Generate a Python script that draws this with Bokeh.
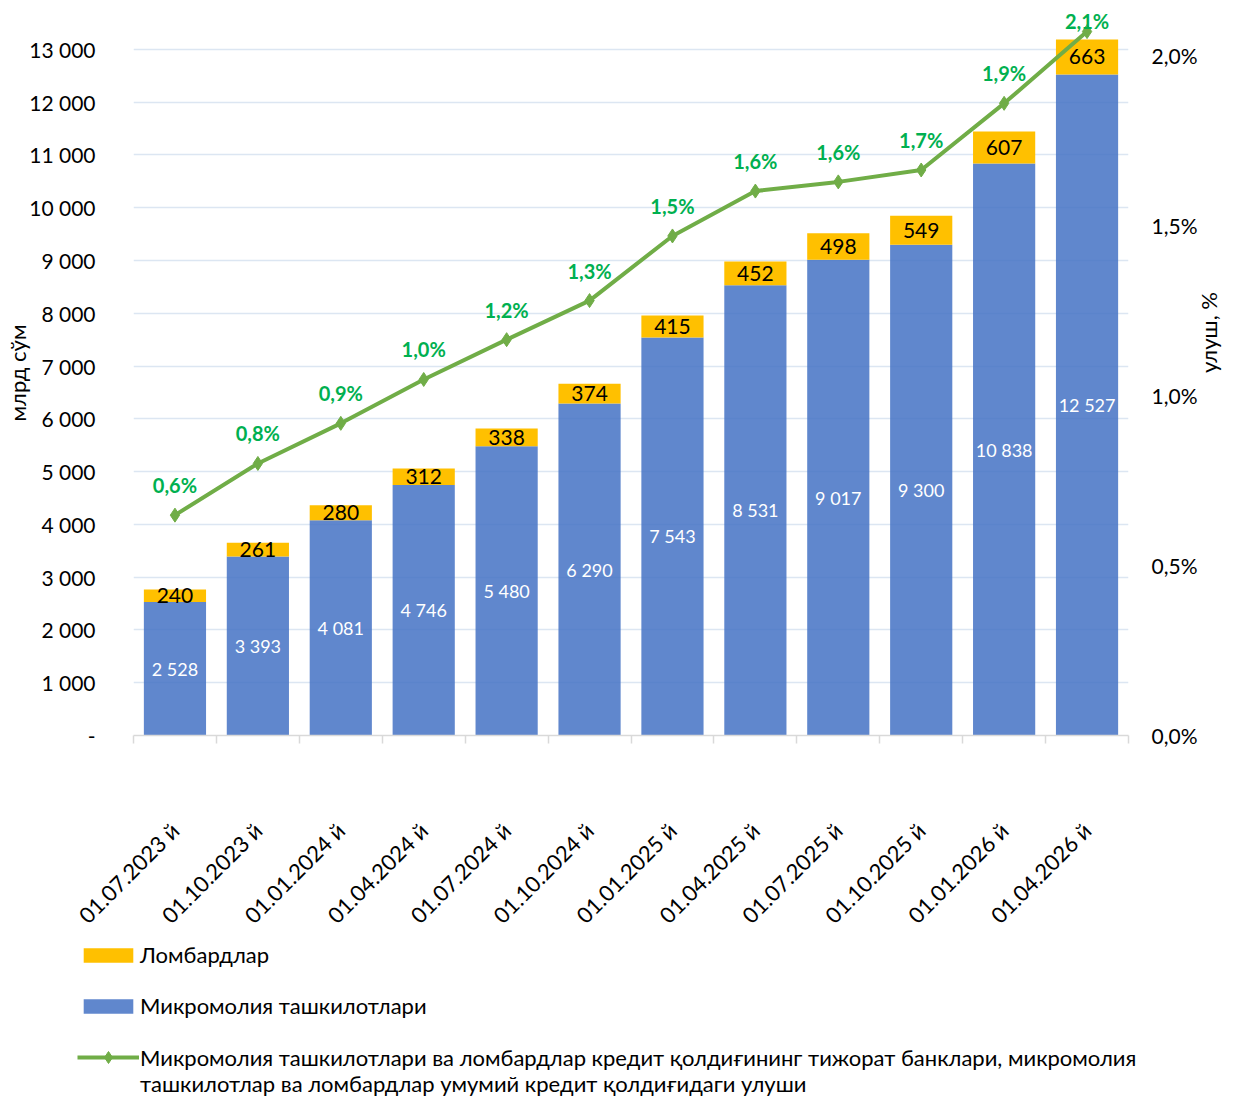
import math
from bokeh.plotting import figure
from bokeh.layouts import column
from bokeh.models import (Range1d, LinearAxis, FixedTicker, ColumnDataSource,
                          Legend, LegendItem)
from bokeh.core.properties import value
from bokeh.embed import file_html
from bokeh.resources import INLINE

# ---------------- data ----------------
categories = ["01.07.2023 й", "01.10.2023 й", "01.01.2024 й", "01.04.2024 й",
              "01.07.2024 й", "01.10.2024 й", "01.01.2025 й", "01.04.2025 й",
              "01.07.2025 й", "01.10.2025 й", "01.01.2026 й", "01.04.2026 й"]
micro = [2528, 3393, 4081, 4746, 5480, 6290, 7543, 8531, 9017, 9300, 10838, 12527]
lombard = [240, 261, 280, 312, 338, 374, 415, 452, 498, 549, 607, 663]
share = [0.648, 0.80, 0.918, 1.047, 1.164, 1.279, 1.469, 1.601, 1.628, 1.663, 1.859, 2.070]
share_labels = ["0,6%", "0,8%", "0,9%", "1,0%", "1,2%", "1,3%", "1,5%", "1,6%",
                "1,6%", "1,7%", "1,9%", "2,1%"]
left_ticks = list(range(0, 14000, 1000))
right_ticks = [0, 0.5, 1, 1.5, 2]
right_tick_labels = ["0,0%", "0,5%", "1,0%", "1,5%", "2,0%"]
series_names = ["Ломбардлар", "Микромолия ташкилотлари",
                "Микромолия ташкилотлари ва ломбардлар кредит қолдиғининг тижорат банклари, микромолия",
                "ташкилотлар ва ломбардлар умумий кредит қолдиғидаги улуши"]
y_title = "млрд сўм"
y2_title = "улуш, %"

FONT = "Lato"
BLUE = "#4472C4"
ORANGE = "#FFC000"
GREEN = "#70AD47"
LBL_GREEN = "#00B050"
W = 1238
H_MAIN = 941


def fmt(v):
    return "-" if v == 0 else f"{v:,}".replace(",", " ")


n = len(categories)
xs = [i + 0.5 for i in range(n)]
src = ColumnDataSource(dict(
    x=xs,
    micro=micro,
    top=[m + l for m, l in zip(micro, lombard)],
    micro_mid=[m / 2 for m in micro],
    lomb_mid=[m + l / 2 for m, l in zip(micro, lombard)],
    micro_lbl=[fmt(m) for m in micro],
    lomb_lbl=[str(l) for l in lombard],
    share=share,
    share_lbl=share_labels,
    share_off=[-30] * (n - 1) + [-11],
))

p = figure(width=W, height=H_MAIN,
           x_range=Range1d(0, n), y_range=Range1d(0, 13738),
           output_backend="svg", toolbar_location=None,
           min_border_left=133, min_border_right=109,
           min_border_top=10, min_border_bottom=H_MAIN - 737)
p.extra_y_ranges = {"pct": Range1d(0, 2.132)}
p.outline_line_color = None
p.background_fill_color = "white"
p.border_fill_color = "white"

# grids
p.xgrid.visible = False
p.ygrid.grid_line_color = "#DCE6F2"
p.ygrid.grid_line_width = 1.5

# left axis
ya = p.yaxis[0]
ya.ticker = FixedTicker(ticks=left_ticks)
ya.major_label_overrides = {t: fmt(t) for t in left_ticks}
ya.axis_line_color = None
ya.major_tick_line_color = None
ya.minor_tick_line_color = None
ya.major_tick_out = 0
ya.major_tick_in = 0
ya.minor_tick_out = 0
ya.minor_tick_in = 0
ya.major_label_standoff = 38
ya.major_label_text_font = FONT
ya.major_label_text_font_size = "21px"
ya.major_label_text_color = "black"
ya.axis_label = y_title
ya.axis_label_standoff = -5
ya.axis_label_text_font = FONT
ya.axis_label_text_font_size = "22px"
ya.axis_label_text_font_style = "normal"
ya.axis_label_text_color = "black"

# x axis
xa = p.xaxis[0]
xa.ticker = FixedTicker(ticks=xs, minor_ticks=list(range(n + 1)))
xa.major_label_overrides = {x: c for x, c in zip(xs, categories)}
xa.major_label_orientation = math.pi / 4
xa.major_tick_line_color = None
xa.major_tick_out = 0
xa.major_tick_in = 0
xa.minor_tick_out = 8
xa.minor_tick_in = 0
xa.minor_tick_line_color = "#D9D9D9"
xa.minor_tick_line_width = 1.5
xa.axis_line_color = "#D9D9D9"
xa.axis_line_width = 1.5
xa.major_label_standoff = 83
xa.major_label_text_font = FONT
xa.major_label_text_font_size = "22px"
xa.major_label_text_color = "black"

# right axis
ra = LinearAxis(y_range_name="pct", ticker=FixedTicker(ticks=right_ticks),
                major_label_overrides={t: s for t, s in zip(right_ticks, right_tick_labels)})
ra.axis_line_color = None
ra.major_tick_line_color = None
ra.minor_tick_line_color = None
ra.major_tick_out = 0
ra.major_tick_in = 0
ra.minor_tick_out = 0
ra.minor_tick_in = 0
ra.major_label_standoff = 23
ra.major_label_text_font = FONT
ra.major_label_text_font_size = "21px"
ra.major_label_text_color = "black"
ra.axis_label = y2_title
ra.axis_label_standoff = 8
ra.axis_label_text_font = FONT
ra.axis_label_text_font_size = "22px"
ra.axis_label_text_font_style = "normal"
ra.axis_label_text_color = "black"
if "axis_label_orientation" in ra.properties():
    ra.axis_label_orientation = math.pi / 2
p.add_layout(ra, "right")

# bars
p.vbar(x="x", bottom=0, top="micro", width=0.75, source=src,
       fill_color=BLUE, fill_alpha=0.85, line_color=None)
p.vbar(x="x", bottom="micro", top="top", width=0.75, source=src,
       fill_color=ORANGE, line_color=None)

# line
p.line(x="x", y="share", y_range_name="pct", source=src,
       line_color=GREEN, line_width=4)
p.scatter(x="x", y="share", y_range_name="pct", source=src,
          marker="diamond", size=14, fill_color=GREEN, line_color=GREEN)

# labels
p.text(x="x", y="micro_mid", text="micro_lbl", source=src,
       text_color="white", text_font=value(FONT), text_font_size="18px",
       text_align="center", text_baseline="middle")
p.text(x="x", y="lomb_mid", text="lomb_lbl", source=src,
       text_color="black", text_font=value(FONT), text_font_size="21px",
       text_align="center", text_baseline="middle")
p.text(x="x", y="share", y_range_name="pct", text="share_lbl", source=src,
       y_offset="share_off",
       text_color=LBL_GREEN, text_font=value(FONT), text_font_size="20px",
       text_font_style="bold", text_align="center", text_baseline="middle")

# ---------------- legend (separate strip under the chart) ----------------
# the strip's renderers are hidden; only their legend entries are drawn
H_LEG = 1097 - H_MAIN
pl = figure(width=W, height=H_LEG, x_range=Range1d(0, n),
            y_range=Range1d(0, 13738),
            output_backend="svg", toolbar_location=None,
            x_axis_location=None, y_axis_location=None,
            min_border_left=77, min_border_right=0,
            min_border_top=0, min_border_bottom=0)
pl.outline_line_color = None
pl.xgrid.visible = False
pl.ygrid.visible = False
pl.background_fill_color = "white"
pl.border_fill_color = "white"
for fig in (p, pl):
    if "frame_align" in fig.properties():
        fig.frame_align = False
l_lomb = pl.vbar(x="x", bottom="micro", top="top", width=0.75, source=src,
                 fill_color=ORANGE, line_color=None)
l_micro = pl.vbar(x="x", bottom=0, top="micro", width=0.75, source=src,
                  fill_color=BLUE, fill_alpha=0.85, line_color=None)
l_line = pl.line(x="x", y="share", source=src, line_color=GREEN, line_width=4)
l_pts = pl.scatter(x="x", y="share", source=src, marker="diamond", size=14,
                   fill_color=GREEN, line_color=GREEN)
l_blank = pl.line(x="x", y="share", source=src, line_alpha=0)
for r in (l_lomb, l_micro, l_line, l_pts, l_blank):
    r.visible = False

common = dict(orientation="vertical", glyph_width=62, label_standoff=1,
              padding=0, margin=0, border_line_color=None,
              background_fill_alpha=0, inactive_fill_alpha=0,
              label_text_font=FONT, label_text_font_size="22px",
              label_text_color="black")

legend_bars = Legend(items=[
    LegendItem(label=series_names[0], renderers=[l_lomb]),
    LegendItem(label=series_names[1], renderers=[l_micro]),
], location="top_left", glyph_height=18, spacing=24, label_height=24, **common)
legend_line = Legend(items=[
    LegendItem(label=series_names[2], renderers=[l_line, l_pts]),
], location=(0, 25), glyph_height=30, label_height=24, **common)
legend_line2 = Legend(items=[
    LegendItem(label=series_names[3], renderers=[l_blank]),
], location=(0, 0), glyph_height=18, label_height=24, **common)
pl.add_layout(legend_bars)
pl.add_layout(legend_line)
pl.add_layout(legend_line2)

layout = column(p, pl, spacing=0)
open("out.html", "w").write(file_html(layout, INLINE))
